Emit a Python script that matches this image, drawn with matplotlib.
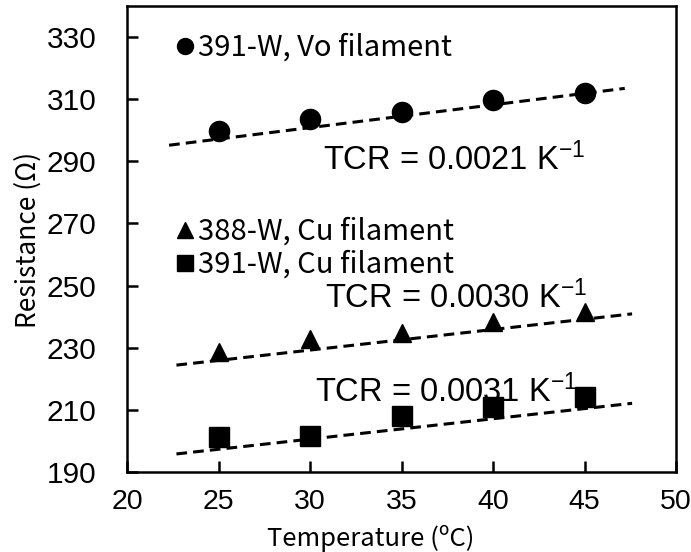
import matplotlib
matplotlib.use("Agg")
import matplotlib.pyplot as plt
from matplotlib.lines import Line2D
import numpy as np

plt.rcParams.update({
    "font.family": ["Liberation Sans", "DejaVu Sans"],
    "mathtext.fontset": "custom",
    "mathtext.rm": "Liberation Sans",
    "mathtext.it": "Liberation Sans",
    "mathtext.bf": "Liberation Sans",
})
CJK = ["Noto Sans CJK SC", "DejaVu Sans"]

# data
temp = [25, 30, 35, 40, 45]
r_vo_391 = [299.7, 303.6, 305.8, 309.7, 311.9]
r_cu_388 = [228.5, 232.7, 234.9, 238.2, 241.4]
r_cu_391 = [201.3, 201.7, 208.1, 210.8, 214.0]

# trend lines (start / end temperature and resistance as seen on the chart)
trend_x_vo = [22.3, 47.2]
trend_y_vo = [295.2, 313.5]
trend_x_388 = [22.7, 47.6]
trend_y_388 = [224.4, 240.9]
trend_x_391 = [22.7, 47.6]
trend_y_391 = [195.8, 212.1]

labels = ["391-W, Vo filament", "388-W, Cu filament", "391-W, Cu filament"]
tcr_text = ["0.0021", "0.0030", "0.0031"]

fig = plt.figure(figsize=(6.91, 5.52), dpi=100)
ax = fig.add_axes([0.1838, 0.145, 0.7945, 0.844])

ax.plot(trend_x_vo, trend_y_vo, c='k', lw=2.2, dashes=(3.5, 2.0), zorder=2)
ax.plot(trend_x_388, trend_y_388, c='k', lw=2.2, dashes=(3.5, 2.0), zorder=2)
ax.plot(trend_x_391, trend_y_391, c='k', lw=2.2, dashes=(3.5, 2.0), zorder=2)

ax.plot(temp, r_vo_391, 'o', c='k', ms=14.5, zorder=3)
ax.plot(temp, r_cu_388, '^', c='k', ms=13.5, zorder=3)
ax.plot(temp, r_cu_391, 's', c='k', ms=14.5, zorder=3)

ax.set_xlim(20, 50)
ax.set_ylim(190, 340)
ax.set_xticks(np.arange(20, 51, 5))
ax.set_yticks(np.arange(190, 331, 20))
ax.tick_params(direction='in', length=8, width=1.8, labelsize=21.5)
ax.tick_params(axis='y', pad=22)
ax.tick_params(axis='x', pad=12, labelsize=20.5)
for s in ax.spines.values():
    s.set_linewidth(1.8)

ax.set_xlabel("Temperature (ºC)", family=CJK, fontsize=18.5)
ax.set_ylabel("Resistance (Ω)", family=CJK, fontsize=19)
ax.xaxis.label.set_va('center')
ax.yaxis.label.set_va('center')
ax.xaxis.set_label_coords(0.444, -0.142)
ax.yaxis.set_label_coords(-0.18, 0.498)

h1 = [Line2D([], [], ls='none', marker='o', c='k', ms=11.5)]
leg1 = ax.legend(h1, labels[:1], loc='center left', bbox_to_anchor=(0.09, 0.91),
                 frameon=False, handlelength=0.6, handletextpad=0.15,
                 prop={'family': CJK, 'size': 21},
                 borderaxespad=0, borderpad=0)
ax.add_artist(leg1)
h2 = [Line2D([], [], ls='none', marker='^', c='k', ms=11.5),
      Line2D([], [], ls='none', marker='s', c='k', ms=11.5)]
ax.legend(h2, labels[1:], loc='center left', bbox_to_anchor=(0.09, 0.48),
          frameon=False, handlelength=0.6, handletextpad=0.15, labelspacing=0.1,
          prop={'family': CJK, 'size': 21},
          borderaxespad=0, borderpad=0)

tcr_pos = [(0.357, 0.670), (0.361, 0.373), (0.343, 0.172)]
for t, (x, y) in zip(tcr_text, tcr_pos):
    ax.text(x, y, "TCR = " + t + r" K$^{\mathregular{-1}}$", transform=ax.transAxes,
            fontsize=23.5, va='center', ha='left', zorder=1)

fig.savefig("out.png", dpi=100)
